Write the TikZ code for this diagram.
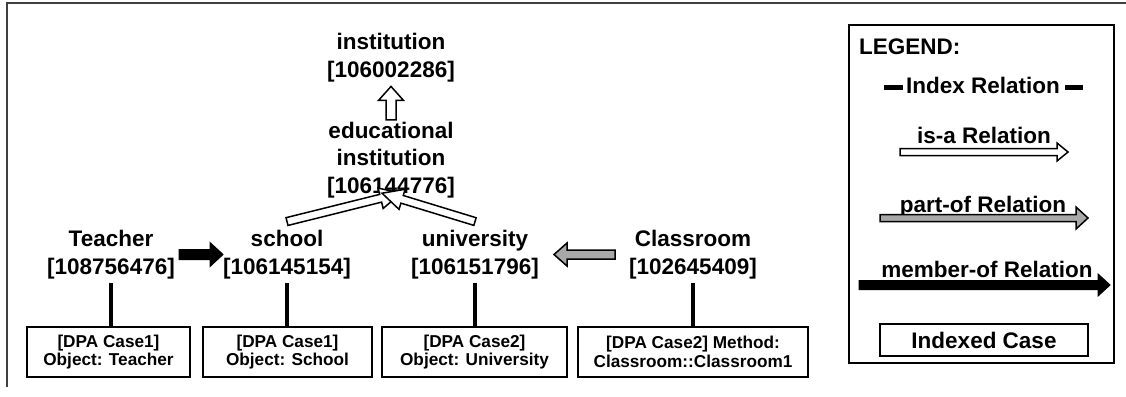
\documentclass[tikz,border=0pt]{standalone}
\usepackage{fontspec}
\setmainfont{Liberation Sans}
\usetikzlibrary{calc}

\definecolor{partgray}{HTML}{A8A8A8}
\definecolor{framegray}{HTML}{404040}

\newcommand\conceptfont{\fontsize{22.5}{27.5}\selectfont\bfseries}
\newcommand\casefont{\fontsize{17.2}{18.6}\selectfont\bfseries}

% Block arrow: style, tail, tip, shaft half-width, head half-width, head length
\newcommand\blockarrow[6][]{%
  \draw[#1] ($(#2)!#4!90:(#3)$)
    -- ($($(#3)!#6!(#2)$)!#4!90:(#3)$)
    -- ($($(#3)!#6!(#2)$)!#5!90:(#3)$)
    -- (#3)
    -- ($($(#3)!#6!(#2)$)!#5!-90:(#3)$)
    -- ($($(#3)!#6!(#2)$)!#4!-90:(#3)$)
    -- ($(#2)!#4!-90:(#3)$) -- cycle;}

\tikzset{
  concept/.style={font=\conceptfont, align=center, inner sep=0pt},
  casebox/.style={draw, line width=2pt, font=\casefont, align=center, inner sep=0pt,
                  minimum height=50pt},
  indexline/.style={line width=4.5pt, shorten <=4pt},
  isa/.style={draw=black, fill=white, line width=1.5pt},
  partof/.style={draw=black, fill=partgray, line width=1.5pt},
  memberof/.style={draw=black, fill=black, line width=1pt},
  legendtext/.style={font=\conceptfont, inner sep=0pt, anchor=base},
}

\begin{document}
\begin{tikzpicture}[x=1pt, y=-1pt]
\useasboundingbox (0,0) rectangle (1126,396);

% frame
\draw[framegray, line width=1.5pt] (7,387) -- (7,3) -- (1126,3);

% concept nodes
\node[concept] (inst) at (391,57.5) {institution\\{}[106002286]};
\node[concept] (edu) at (391,160) {educational\\institution\\{}[106144776]};
\node[concept] (teacher) at (111,254.5) {Teacher\\{}[108756476]};
\node[concept] (school) at (287,254.5) {school\\{}[106145154]};
\node[concept] (univ) at (475,254.5) {university\\{}[106151796]};
\node[concept] (classroom) at (693,254.5) {Classroom\\{}[102645409]};

% indexed cases
\node[casebox, minimum width=163pt] (cteacher) at (108.5,352) {[DPA Case1]\\Object: Teacher};
\node[casebox, minimum width=169pt] (cschool) at (287.5,352) {[DPA Case1]\\Object: School};
\node[casebox, minimum width=185pt] (cuniv) at (474.5,352) {[DPA Case2]\\Object: University};
\node[casebox, minimum width=230pt] (cclass) at (693,352) {[DPA Case2] Method:\\Classroom::Classroom1};

% index relations
\draw[indexline] (teacher.south) -- (teacher.south |- cteacher.north);
\draw[indexline] (school.south) -- (school.south |- cschool.north);
\draw[indexline] (univ.south) -- (univ.south |- cuniv.north);
\draw[indexline] (classroom.south) -- (classroom.south |- cclass.north);

% is-a relations
\coordinate (eduTail) at ([yshift=2pt]edu.north);
\coordinate (instTip) at ([yshift=-4.5pt]inst.south);
\blockarrow[isa]{eduTail}{instTip}{5pt}{12.5pt}{14pt}

\coordinate (schoolTail) at ([yshift=8.5pt]school.north);
\coordinate (schoolTip) at ([xshift=10pt,yshift=5pt]edu.south);
\blockarrow[isa]{schoolTail}{schoolTip}{4pt}{10.5pt}{21pt}

\coordinate (univTail) at ([yshift=8.5pt]univ.north);
\coordinate (univTip) at ([xshift=-9pt,yshift=5pt]edu.south);
\blockarrow[isa]{univTail}{univTip}{4pt}{10.5pt}{21pt}

% member-of relation
\coordinate (teacherTail) at ([xshift=4pt]teacher.east);
\coordinate (schoolHead) at (school.west);
\blockarrow[memberof]{teacherTail}{schoolHead}{5pt}{12pt}{13pt}

% part-of relation
\coordinate (classTail) at ([xshift=-14pt]classroom.west);
\coordinate (univHead) at ([xshift=15pt]univ.east);
\blockarrow[partof]{classTail}{univHead}{4.5pt}{11.5pt}{13pt}

% legend
\node[draw, line width=1.3pt, minimum width=265pt, minimum height=338pt, inner sep=0pt]
  (legend) at (981.5,194) {};
\node[legendtext, anchor=base west] (legendtitle) at (859,55) {LEGEND:};

\node[legendtext] (lgindex) at (983,93) {Index Relation};
\draw[line width=5pt] ([xshift=-3pt,yshift=6pt]lgindex.base west) -- ([xshift=-22pt,yshift=6pt]lgindex.base west);
\draw[line width=5pt] ([xshift=5pt,yshift=6pt]lgindex.base east) -- ([xshift=23pt,yshift=6pt]lgindex.base east);

\node[legendtext] (lgisa) at (984,143) {is-a Relation};
\coordinate (lgisaA) at (900,152);
\coordinate (lgisaB) at (1068,152);
\blockarrow[isa]{lgisaA}{lgisaB}{3.5pt}{9pt}{11pt}

\node[legendtext] (lgpart) at (983,212) {part-of Relation};
\coordinate (lgpartA) at (880,218);
\coordinate (lgpartB) at (1088,218);
\blockarrow[partof]{lgpartA}{lgpartB}{3.5pt}{11pt}{12pt}

\node[legendtext] (lgmember) at (987,277) {member-of Relation};
\coordinate (lgmemberA) at (859,285);
\coordinate (lgmemberB) at (1110,285);
\blockarrow[memberof]{lgmemberA}{lgmemberB}{4.5pt}{11pt}{12pt}

\node[draw, line width=1.5pt, minimum width=208pt, minimum height=32pt, inner sep=0pt,
      font=\conceptfont] (lgcase) at (984,340) {Indexed Case};
\end{tikzpicture}
\end{document}
